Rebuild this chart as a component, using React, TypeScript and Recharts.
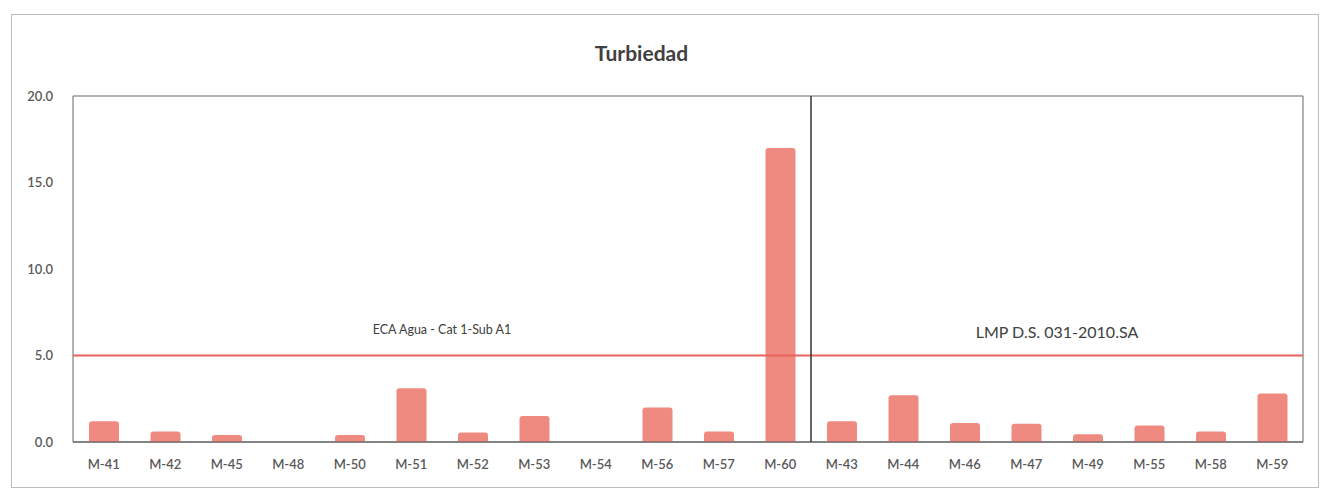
import {
  Bar,
  BarChart,
  Label,
  ReferenceArea,
  ReferenceLine,
  XAxis,
  YAxis,
} from "recharts";

// muestras: primero las de agua superficial (ECA), luego las de consumo (LMP)
const stations = [
  "M-41", "M-42", "M-45", "M-48", "M-50", "M-51", "M-52", "M-53", "M-54", "M-56",
  "M-57", "M-60", "M-43", "M-44", "M-46", "M-47", "M-49", "M-55", "M-58", "M-59",
];
const turbidity = [
  1.2, 0.6, 0.4, 0, 0.4, 3.1, 0.55, 1.5, 0, 2.0,
  0.6, 17.0, 1.2, 2.7, 1.1, 1.05, 0.45, 0.95, 0.6, 2.8,
];
const yTicks = [0, 5, 10, 15, 20];

const limit = 5;
const ecaLabel = "ECA Agua - Cat 1-Sub A1";
const lmpLabel = "LMP D.S. 031-2010.SA";
const splitIndex = 12; // where the LMP group starts

const data = stations.map((name, i) => ({ name, value: turbidity[i], pos: i + 0.5 }));

const FONT = "Lato, 'Open Sans', sans-serif";
const BAR = "#EF8A80";
const RED = "#E8625A";

export default function App() {
  return (
    <div
      style={{
        position: "absolute",
        left: 0,
        top: 0,
        width: 1329,
        height: 501,
        background: "#fff",
        fontFamily: FONT,
      }}
    >
      <div
        style={{
          position: "absolute",
          left: 11,
          top: 14,
          width: 1306,
          height: 472,
          border: "1px solid #bdbdbd",
        }}
      />
      <div
        style={{
          position: "absolute",
          left: 0,
          top: 40,
          width: 1329,
          textAlign: "center",
          paddingRight: 46,
          boxSizing: "border-box",
          fontSize: 21,
          fontWeight: 700,
          color: "#404040",
        }}
      >
        Turbiedad
      </div>
      <BarChart
        width={1329}
        height={501}
        data={data}
        margin={{ top: 96, right: 26, bottom: 29, left: 0 }}
        style={{ position: "absolute", left: 0, top: 0 }}
      >
        <XAxis
          dataKey="name"
          height={30}
          tickLine={false}
          axisLine={{ stroke: "#555" }}
          tickMargin={12}
          interval={0}
          tick={{ fill: "#595959", fontSize: 13, fontFamily: FONT, fontWeight: 600 }}
        />
        <XAxis
          xAxisId="num"
          dataKey="pos"
          type="number"
          domain={[0, stations.length]}
          allowDataOverflow
          hide
        />
        <YAxis
          width={73}
          domain={[0, 20]}
          ticks={yTicks}
          axisLine={false}
          tickLine={false}
          tickMargin={14}
          tickFormatter={(v: number) => v.toFixed(1)}
          tick={{ fill: "#595959", fontSize: 13, fontFamily: FONT, fontWeight: 600 }}
        />
        <ReferenceArea y1={0} y2={20} fill="none" stroke="#666" strokeWidth={1} />
        <Bar dataKey="value" fill={BAR} barSize={30} radius={[3, 3, 0, 0]} isAnimationActive={false} />
        <ReferenceLine
          xAxisId="num"
          segment={[
            { x: 0, y: limit },
            { x: splitIndex, y: limit },
          ]}
          stroke={RED}
          strokeWidth={2}
          ifOverflow="extendDomain"
        >
          <Label
            value={ecaLabel}
            position="top"
            offset={22}
            fill="#404040"
            fontSize={12.5}
            fontFamily={FONT}
          />
        </ReferenceLine>
        <ReferenceLine
          xAxisId="num"
          segment={[
            { x: splitIndex, y: limit },
            { x: stations.length, y: limit },
          ]}
          stroke={RED}
          strokeWidth={2}
          ifOverflow="extendDomain"
        >
          <Label
            value={lmpLabel}
            position="top"
            offset={18}
            fill="#404040"
            fontSize={16}
            fontFamily={FONT}
          />
        </ReferenceLine>
        <ReferenceLine xAxisId="num" x={splitIndex} stroke="#333" strokeWidth={1.5} />
      </BarChart>
    </div>
  );
}
